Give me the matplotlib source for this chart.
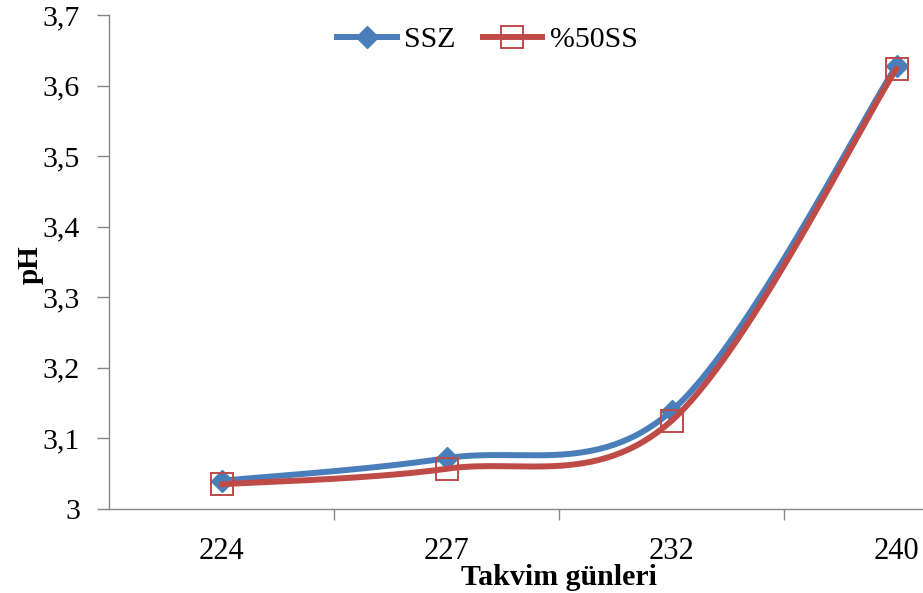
import numpy as np
import matplotlib.pyplot as plt
from matplotlib.ticker import FixedLocator, FuncFormatter
from matplotlib.lines import Line2D

# Dados (pH por dia)
dias = ['224', '227', '232', '240']
ssz = [3.040, 3.072, 3.139, 3.628]
ss50 = [3.035, 3.057, 3.125, 3.624]

plt.rcParams['font.family'] = ['Liberation Serif', 'DejaVu Serif']


def suavizar(xs, ys, n=60):
    # curva de Bezier estilo Excel (cardinal spline)
    pts = np.column_stack([np.asarray(xs, float), np.asarray(ys, float)])
    out = []
    for i in range(len(pts) - 1):
        p0 = pts[max(i - 1, 0)]
        p1 = pts[i]
        p2 = pts[i + 1]
        p3 = pts[min(i + 2, len(pts) - 1)]
        c1 = p1 + (p2 - p0) / 6
        c2 = p2 - (p3 - p1) / 6
        t = np.linspace(0, 1, n)[:, None]
        seg = ((1 - t) ** 3) * p1 + 3 * ((1 - t) ** 2) * t * c1 + 3 * (1 - t) * t ** 2 * c2 + t ** 3 * p2
        out.append(seg)
    curva = np.vstack(out)
    return curva[:, 0], curva[:, 1]


fig = plt.figure(figsize=(9.23, 5.93), dpi=100)
ax = fig.add_axes([109 / 923, 84 / 593, 900 / 923, 494 / 593])

x = np.arange(len(dias))
azul = '#4A7EBB'
vermelho = '#BE4B48'
lw = 4.3

sx, sy = suavizar(x, ssz)
ax.plot(sx, sy, color=azul, linewidth=lw, solid_capstyle='round', zorder=3)
ax.plot(x, ssz, linestyle='none', marker='D', markersize=11.5, color=azul, zorder=3)

rx, ry = suavizar(x, ss50)
ax.plot(rx, ry, color=vermelho, linewidth=lw, solid_capstyle='round', zorder=4)
ax.plot(x, ss50, linestyle='none', marker='s', markersize=16, markerfacecolor='none',
        markeredgecolor=vermelho, markeredgewidth=1.4, zorder=4)

# Legenda
h1 = Line2D([], [], color=azul, linewidth=lw, marker='D', markersize=11.5)
h2 = Line2D([], [], color=vermelho, linewidth=lw, marker='s', markersize=16,
            markerfacecolor='none', markeredgewidth=1.4)
fig.legend([h1, h2], ['SSZ', '%50SS'], loc='center', bbox_to_anchor=(0.528, 0.933),
           ncol=2, frameon=False, fontsize=21.5, handlelength=2.0, handletextpad=0.25,
           columnspacing=0.9)

ax.set_xlim(-0.5, 3.5)
ax.set_ylim(3.0, 3.7)
ax.xaxis.set_major_locator(FixedLocator(x))
ax.set_xticklabels(dias)
ax.xaxis.set_minor_locator(FixedLocator([0.5, 1.5, 2.5]))
ax.tick_params(axis='x', which='major', length=0, labelsize=22, pad=20)
ax.tick_params(axis='x', which='minor', length=8, width=1, color='#868686', direction='out')
ax.set_yticks(np.arange(3.0, 3.71, 0.1))
ax.yaxis.set_major_formatter(FuncFormatter(lambda v, p: ('%.1f' % v).replace('.', ',').replace(',0', '')))
ax.tick_params(axis='y', length=9, width=1, color='#868686', labelsize=21.5, pad=12)

for lado in ['top', 'right']:
    ax.spines[lado].set_visible(False)
for lado in ['left', 'bottom']:
    ax.spines[lado].set_color('#868686')
    ax.spines[lado].set_linewidth(1)

ax.text(-0.088, 0.494, 'pH', transform=ax.transAxes, rotation=90, ha='center', va='center',
        fontsize=21, fontweight='bold')
ax.text(0.5, -0.138, 'Takvim günleri', transform=ax.transAxes, ha='center', va='center',
        fontsize=21.5, fontweight='bold')

plt.savefig('out.png', dpi=100)
